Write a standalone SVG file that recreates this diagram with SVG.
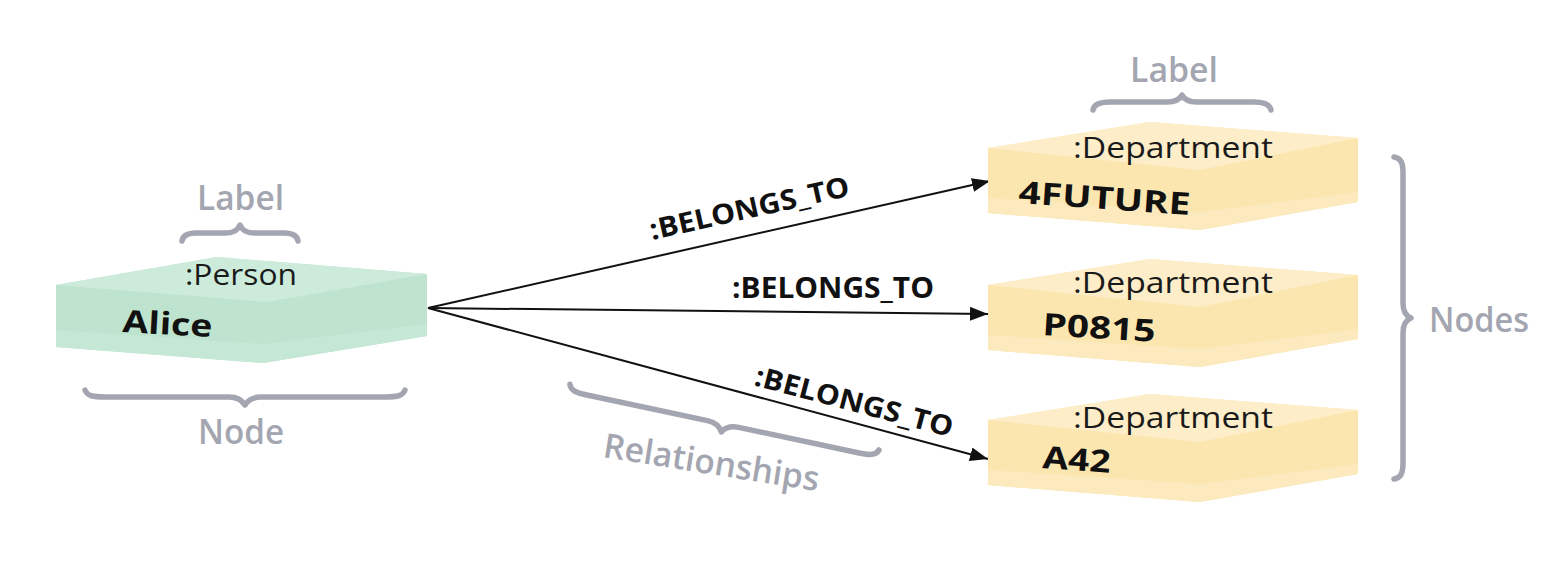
<svg xmlns="http://www.w3.org/2000/svg" width="1556" height="582" viewBox="0 0 1556 582">
  <defs>
    <style>
      .note { font-family: "Open Sans", "Noto Sans", sans-serif; font-size: 34px; font-weight: 600; fill: #a3a6b0; }
      .type { font-family: "Open Sans", "Noto Sans", sans-serif; font-size: 29px; fill: #1a1a1a; }
      .name { font-family: "Open Sans", "Noto Sans", sans-serif; font-size: 31px; font-weight: 700; fill: #111111; }
      .rel { font-family: "Open Sans", "Noto Sans", sans-serif; font-size: 28px; font-weight: 700; fill: #111111; }
      .brace { fill: none; stroke: #a3a6b0; stroke-width: 5.5; stroke-linecap: round; stroke-linejoin: round; }
      .edge { fill: none; stroke: #111111; stroke-width: 2; }
      .g-base { fill: #bee4d0; }
      .g-top { fill: #cdebdb; }
      .g-low { fill: #c5e7d5; }
      .y-base { fill: #fbe6b0; }
      .y-top { fill: #fdeec9; }
      .y-low { fill: #fce9bd; }
    </style>
    <marker id="arrow" markerUnits="userSpaceOnUse" markerWidth="20" markerHeight="16" refX="18" refY="7" orient="auto">
      <path d="M0,0 L18,7 L0,14 Z" fill="#111111"/>
    </marker>
    <g id="dept">
      <polygon class="y-base" points="988,148 1150,122 1358,138 1358,202 1200,230 988,213"/>
      <polygon class="y-top" points="988,148 1150,122 1358,138 1200,170"/>
      <polygon class="y-low" points="988,198 1200,212 1358,192 1358,202 1200,230 988,213"/>
    </g>
  </defs>

  <rect width="1556" height="582" fill="#ffffff"/>

  <!-- Connectors -->
  <g id="connectors">
    <line class="edge" x1="428" y1="308" x2="990" y2="181" marker-end="url(#arrow)"/>
    <line class="edge" x1="428" y1="308" x2="988" y2="314" marker-end="url(#arrow)"/>
    <line class="edge" x1="428" y1="308" x2="988" y2="459" marker-end="url(#arrow)"/>
    <text class="rel" x="652" y="240" textLength="204" lengthAdjust="spacingAndGlyphs" transform="rotate(-12.6 652 240)">:BELONGS_TO</text>
    <text class="rel" x="732" y="298" textLength="202" lengthAdjust="spacingAndGlyphs">:BELONGS_TO</text>
    <text class="rel" x="753" y="385" textLength="204" lengthAdjust="spacingAndGlyphs" transform="rotate(14.8 753 385)">:BELONGS_TO</text>
  </g>

  <!-- Person node -->
  <g id="node-alice">
    <polygon class="g-base" points="56,285 217,257 427,274 427,336 263,363 56,347"/>
    <polygon class="g-top" points="56,285 217,257 427,274 267,302"/>
    <polygon class="g-low" points="56,330 263,344 427,324 427,336 263,363 56,347"/>
    <text class="type" x="185" y="285" textLength="112" lengthAdjust="spacingAndGlyphs">:Person</text>
    <text class="name" x="122" y="332" textLength="90" lengthAdjust="spacingAndGlyphs" transform="rotate(3.2 122 332)">Alice</text>
  </g>

  <!-- Department nodes -->
  <g id="node-4future">
    <use href="#dept"/>
    <text class="type" x="1073" y="158" textLength="200" lengthAdjust="spacingAndGlyphs">:Department</text>
    <text class="name" x="1018" y="203" textLength="172" lengthAdjust="spacingAndGlyphs" transform="rotate(4 1018 203)">4FUTURE</text>
  </g>
  <g id="node-p0815">
    <use href="#dept" transform="translate(0,137)"/>
    <text class="type" x="1073" y="293" textLength="200" lengthAdjust="spacingAndGlyphs">:Department</text>
    <text class="name" x="1042" y="335" textLength="113" lengthAdjust="spacingAndGlyphs" transform="rotate(3.5 1042 335)">P0815</text>
  </g>
  <g id="node-a42">
    <use href="#dept" transform="translate(0,272)"/>
    <text class="type" x="1073" y="428" textLength="200" lengthAdjust="spacingAndGlyphs">:Department</text>
    <text class="name" x="1042" y="468" textLength="68" lengthAdjust="spacingAndGlyphs" transform="rotate(4 1042 468)">A42</text>
  </g>

  <!-- Annotations -->
  <g id="annotation-label-left">
    <path class="brace" transform="translate(240,233) scale(1,-1)" d="M -58,-8 C -57,-2 -52,0 -44,0 L -14,0 C -6,0 -2,3 0,8 C 2,3 6,0 14,0 L 44,0 C 52,0 57,-2 58,-8"/>
    <text class="note" x="197" y="210" textLength="87" lengthAdjust="spacingAndGlyphs">Label</text>
  </g>
  <g id="annotation-node">
    <path class="brace" transform="translate(245,397)" d="M -160,-7 C -158,-1 -152,0 -140,0 L -16,0 C -7,0 -3,3 0,8 C 3,3 7,0 16,0 L 140,0 C 152,0 158,-1 160,-7"/>
    <text class="note" x="198" y="444" textLength="86" lengthAdjust="spacingAndGlyphs">Node</text>
  </g>
  <g id="annotation-label-right">
    <path class="brace" transform="translate(1182,102) scale(1,-1)" d="M -89,-8 C -88,-2 -82,0 -72,0 L -15,0 C -6,0 -2,3 0,7 C 2,3 6,0 15,0 L 72,0 C 82,0 88,-2 89,-8"/>
    <text class="note" x="1130" y="82" textLength="88" lengthAdjust="spacingAndGlyphs">Label</text>
  </g>
  <g id="annotation-nodes">
    <path class="brace" transform="translate(1403,318) rotate(-90)" d="M -161,-9 C -160,-2 -155,0 -145,0 L -15,0 C -6,0 -2,3 0,8 C 2,3 6,0 15,0 L 145,0 C 155,0 160,-2 161,-9"/>
    <text class="note" x="1429" y="332" textLength="100" lengthAdjust="spacingAndGlyphs">Nodes</text>
  </g>
  <g id="annotation-relationships">
    <path class="brace" transform="translate(723,424) rotate(12)" d="M -158,-7 C -156,-1 -150,0 -138,0 L -16,0 C -7,0 -3,3 0,8 C 3,3 7,0 16,0 L 138,0 C 150,0 156,-1 158,-7"/>
    <text class="note" x="602" y="457" textLength="218" lengthAdjust="spacingAndGlyphs" transform="rotate(9 602 457)">Relationships</text>
  </g>
</svg>
